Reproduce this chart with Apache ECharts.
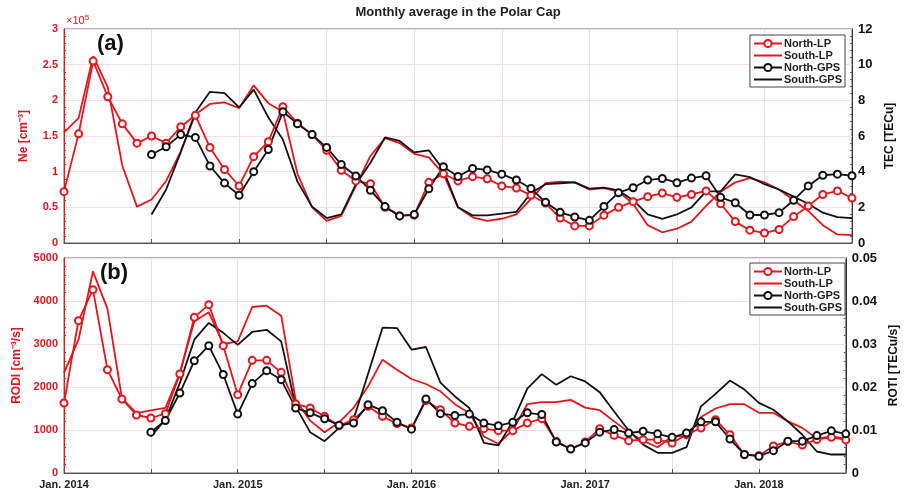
<!DOCTYPE html>
<html>
<head>
<meta charset="UTF-8">
<title>Monthly average in the Polar Cap</title>
<script src="https://cdn.jsdelivr.net/npm/echarts@6/dist/echarts.min.js"></script>
<style>
  html, body { margin: 0; padding: 0; background: #fff; }
  #main { width: 908px; height: 492px; }
</style>
</head>
<body>
<div id="main"></div>
<script type="text/javascript">
// months Jan. 2014 .. Jul. 2018
var months = [
  '2014-01','2014-02','2014-03','2014-04','2014-05','2014-06','2014-07','2014-08','2014-09','2014-10','2014-11','2014-12',
  '2015-01','2015-02','2015-03','2015-04','2015-05','2015-06','2015-07','2015-08','2015-09','2015-10','2015-11','2015-12',
  '2016-01','2016-02','2016-03','2016-04','2016-05','2016-06','2016-07','2016-08','2016-09','2016-10','2016-11','2016-12',
  '2017-01','2017-02','2017-03','2017-04','2017-05','2017-06','2017-07','2017-08','2017-09','2017-10','2017-11','2017-12',
  '2018-01','2018-02','2018-03','2018-04','2018-05','2018-06','2018-07'
];

// (a) Ne in units of 1e5 cm^-3 (left axis), TEC in TECu (right axis)
var neNorthLP = [0.72,1.53,2.55,2.05,1.67,1.40,1.50,1.40,1.63,1.79,1.34,1.03,
  0.80,1.21,1.42,1.91,1.68,1.52,1.30,1.02,0.87,0.83,0.50,0.38,
  0.39,0.85,0.97,0.87,0.93,0.90,0.80,0.77,0.67,0.56,0.35,0.24,
  0.24,0.39,0.50,0.58,0.65,0.70,0.64,0.68,0.73,0.55,0.30,0.18,
  0.14,0.19,0.37,0.52,0.68,0.73,0.63];
var neSouthLP = [1.55,1.75,2.62,2.18,1.08,0.51,0.61,0.87,1.28,1.80,1.95,1.97,
  1.89,2.21,1.96,1.84,0.97,0.50,0.31,0.38,0.80,1.22,1.47,1.40,
  1.25,1.20,0.97,0.50,0.36,0.31,0.34,0.40,0.62,0.84,0.86,0.85,
  0.75,0.77,0.72,0.55,0.25,0.15,0.20,0.30,0.52,0.72,0.85,0.91,
  0.85,0.75,0.60,0.45,0.25,0.12,0.11];
var tecNorthGPS = [null,null,null,null,null,null,4.96,5.40,6.08,5.92,4.32,3.36,
  2.68,4.00,5.24,7.36,6.68,6.08,5.36,4.40,3.76,2.96,2.04,1.52,
  1.60,3.04,4.28,3.73,4.18,4.10,3.86,3.53,3.06,2.28,1.72,1.46,
  1.27,2.05,2.82,3.10,3.53,3.62,3.38,3.64,3.77,2.56,2.26,1.57,
  1.57,1.70,2.40,3.20,3.80,3.86,3.77];
var tecSouthGPS = [null,null,null,null,null,null,1.60,3.00,5.10,7.32,8.48,8.40,
  7.60,8.60,7.04,5.80,3.44,2.04,1.40,1.60,3.28,4.50,5.92,5.72,
  5.08,5.20,4.10,2.00,1.55,1.55,1.65,1.75,2.80,3.30,3.35,3.40,
  3.05,3.10,2.95,2.40,1.60,1.35,1.60,2.00,2.90,2.90,3.85,3.70,
  3.30,3.00,2.60,2.20,1.70,1.45,1.40];

// (b) RODI in cm^-3/s (left axis), ROTI in TECu/s (right axis)
var rodiNorthLP = [1628,3543,4264,2403,1721,1349,1279,1380,2302,3620,3915,2961,
  1822,2620,2620,2341,1605,1512,1318,1101,1240,1550,1318,1147,
  1047,1682,1473,1163,1085,1031,985,985,1163,1264,736,558,
  721,1031,876,752,775,775,698,891,1047,1240,891,426,
  403,630,730,650,780,830,770];
var rodiSouthLP = [2326,3100,4690,3822,1744,1395,1457,1512,2326,3527,3736,3000,
  3062,3860,3891,3659,1705,1217,946,1178,1512,2015,2636,2400,
  2186,2070,1900,1600,1390,850,680,1000,1600,1650,1650,1700,
  1520,1460,1200,950,750,600,850,850,1300,1500,1600,1600,
  1400,1400,1200,1050,800,850,800];
var rotiNorthGPS = [null,null,null,null,null,null,0.0095,0.0122,0.0186,0.0261,0.0296,0.0229,
  0.0137,0.0208,0.0238,0.0217,0.0151,0.0140,0.0126,0.0111,0.0116,0.0159,0.0145,0.0118,
  0.0102,0.0172,0.0138,0.0134,0.0137,0.0116,0.0110,0.0118,0.0140,0.0136,0.0072,0.0056,
  0.0070,0.0095,0.0101,0.0093,0.0097,0.0091,0.0083,0.0093,0.0119,0.0119,0.0079,0.0043,
  0.0039,0.0052,0.0074,0.0074,0.0087,0.0098,0.0091];
var rotiSouthGPS = [null,null,null,null,null,null,0.0085,0.0124,0.0209,0.0310,0.0349,0.0326,
  0.0298,0.0328,0.0333,0.0306,0.0155,0.0095,0.0074,0.0105,0.0125,0.0230,0.0338,0.0337,
  0.0287,0.0293,0.0210,0.0178,0.0151,0.0070,0.0064,0.0120,0.0196,0.0230,0.0205,0.0225,
  0.0213,0.0188,0.0143,0.0099,0.0066,0.0047,0.0047,0.0060,0.0155,0.0184,0.0215,0.0194,
  0.0163,0.0147,0.0120,0.0089,0.0050,0.0043,0.0043];

var RED = '#e3161b';
var BLACK = '#111111';
var FONT = 'Liberation Sans, Arial, sans-serif';

function everySix(index) { return index % 6 === 0; }
function everyYear(index) { return index % 12 === 0; }
function monthLabel(v) { return 'Jan. ' + v.slice(0, 4); }
function plainNumber(v) { return String(v); }

function xAxisFor(gridIndex, showLabels) {
  return {
    type: 'category',
    gridIndex: gridIndex,
    data: months,
    boundaryGap: false,
    axisLine: { lineStyle: { color: '#555', width: 1 } },
    axisTick: { inside: true, interval: everySix, length: 4, lineStyle: { color: '#555' } },
    axisLabel: {
      show: showLabels, interval: everyYear, formatter: monthLabel,
      color: '#222', fontWeight: 'bold', fontSize: 11, fontFamily: FONT, margin: 6
    },
    splitLine: { show: true, interval: everySix, lineStyle: { color: '#e2e2e2', width: 1 } }
  };
}

function leftAxis(gridIndex, max, interval, name, gap) {
  return {
    type: 'value', gridIndex: gridIndex, position: 'left',
    min: 0, max: max, interval: interval,
    name: name, nameLocation: 'middle', nameGap: gap, nameRotate: 90,
    nameTextStyle: { color: RED, fontWeight: 'bold', fontSize: 12, fontFamily: FONT },
    axisLine: { show: true, lineStyle: { color: RED, width: 1 } },
    axisTick: { inside: true, length: 4, lineStyle: { color: RED } },
    minorTick: { show: true, splitNumber: 5, length: 2, lineStyle: { color: RED } },
    axisLabel: { color: RED, fontWeight: 'bold', fontSize: 11, fontFamily: FONT, margin: 6, formatter: plainNumber },
    splitLine: { show: true, lineStyle: { color: '#f4dede', width: 1 } }
  };
}

function rightAxis(gridIndex, max, interval, name, gap) {
  return {
    type: 'value', gridIndex: gridIndex, position: 'right',
    min: 0, max: max, interval: interval,
    name: name, nameLocation: 'middle', nameGap: gap, nameRotate: 90,
    nameTextStyle: { color: '#111', fontWeight: 'bold', fontSize: 12, fontFamily: FONT },
    axisLine: { show: true, lineStyle: { color: '#333', width: 1 } },
    axisTick: { inside: true, length: 4, lineStyle: { color: '#333' } },
    minorTick: { show: true, splitNumber: 5, length: 2, lineStyle: { color: '#666' } },
    axisLabel: { color: '#111', fontWeight: 'bold', fontSize: 13, fontFamily: FONT, margin: 6, formatter: plainNumber },
    splitLine: { show: false }
  };
}

function markerLine(name, data, color, xi, yi) {
  return {
    name: name, type: 'line', data: data, xAxisIndex: xi, yAxisIndex: yi,
    symbol: 'emptyCircle', symbolSize: 7, showSymbol: true,
    lineStyle: { color: color, width: 1.8 },
    itemStyle: { color: color, borderColor: color, borderWidth: 1.5 },
    connectNulls: false, animation: false, z: 3
  };
}

function plainLine(name, data, color, xi, yi) {
  return {
    name: name, type: 'line', data: data, xAxisIndex: xi, yAxisIndex: yi,
    symbol: 'none', showSymbol: false,
    lineStyle: { color: color, width: 1.8 },
    itemStyle: { color: color },
    animation: false, z: 2
  };
}

function legendAt(top) {
  return {
    data: [
      { name: 'North-LP' },
      { name: 'South-LP', itemStyle: { opacity: 0 } },
      { name: 'North-GPS' },
      { name: 'South-GPS', itemStyle: { opacity: 0 } }
    ],
    orient: 'vertical', right: 63, top: top,
    backgroundColor: '#fff', borderColor: '#444', borderWidth: 1,
    padding: [3, 3, 2, 3], itemGap: 1, itemWidth: 28, itemHeight: 9,
    textStyle: { color: '#222', fontWeight: 'bold', fontSize: 11, fontFamily: FONT, padding: [0, 0, 0, -3] },
    selectedMode: false
  };
}

var myChart = echarts.init(document.getElementById('main'));

var option = {
  backgroundColor: '#fff',
  animation: false,
  grid: [
    { left: 64, right: 56, top: 29, height: 214, show: true, borderColor: '#666', borderWidth: 1, backgroundColor: 'transparent' },
    { left: 64, right: 56, top: 258, height: 215, show: true, borderColor: '#666', borderWidth: 1, backgroundColor: 'transparent' }
  ],
  legend: [legendAt(35), legendAt(263)],
  xAxis: [xAxisFor(0, false), xAxisFor(1, true)],
  yAxis: [
    leftAxis(0, 3, 0.5, 'Ne [cm\u207B\u00B3]', 34),
    rightAxis(0, 12, 2, 'TEC [TECu]', 26),
    leftAxis(1, 5000, 1000, 'RODI [cm\u207B\u00B3/s]', 40),
    rightAxis(1, 0.05, 0.01, 'ROTI [TECu/s]', 42)
  ],
  series: [
    markerLine('North-LP', neNorthLP, RED, 0, 0),
    plainLine('South-LP', neSouthLP, RED, 0, 0),
    markerLine('North-GPS', tecNorthGPS, BLACK, 0, 1),
    plainLine('South-GPS', tecSouthGPS, BLACK, 0, 1),
    markerLine('North-LP', rodiNorthLP, RED, 1, 2),
    plainLine('South-LP', rodiSouthLP, RED, 1, 2),
    markerLine('North-GPS', rotiNorthGPS, BLACK, 1, 3),
    plainLine('South-GPS', rotiSouthGPS, BLACK, 1, 3)
  ],
  graphic: [
    { type: 'text', x: 458, y: 6, style: { text: 'Monthly average in the Polar Cap', fill: '#222', font: 'bold 13px ' + FONT, align: 'center' } },
    { type: 'text', x: 66, y: 14, style: { text: '\u00D710{s|5}', fill: RED, font: '11px ' + FONT, rich: { s: { fontSize: 8, verticalAlign: 'top', padding: [0, 0, 6, 0], fill: RED } } } },
    { type: 'text', x: 97, y: 33, style: { text: '(a)', fill: '#111', font: 'bold 22px ' + FONT } },
    { type: 'text', x: 100, y: 262, style: { text: '(b)', fill: '#111', font: 'bold 22px ' + FONT } }
  ]
};

myChart.setOption(option);
</script>
</body>
</html>
